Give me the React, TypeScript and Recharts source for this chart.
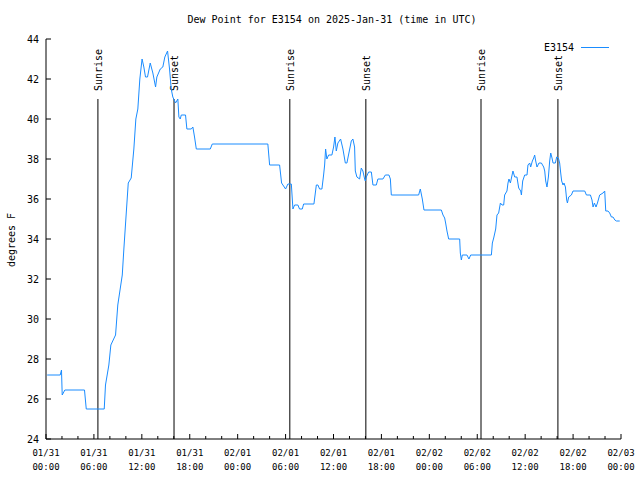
import { LineChart, Line, XAxis, YAxis, ReferenceLine, Legend } from 'recharts';

// hours since 2025-01-31 00:00 UTC
const hours = [
  0.15, 1.78, 1.94, 2.03, 2.36, 4.82, 5.04, 7.29, 7.45, 7.87, 8.12, 8.71, 8.99, 9.55, 9.75, 10.05,
  10.3, 10.67, 11.0, 11.25, 11.5, 11.75, 12.03, 12.25, 12.46, 12.71, 13.05, 13.38, 13.72, 13.88,
  14.31, 14.63, 14.88, 15.22, 15.47, 15.68, 15.88, 16.22, 16.51, 16.64, 16.81, 16.94, 17.47, 17.64,
  18.19, 18.39, 18.6, 18.82, 20.57, 20.82, 27.78, 28.0, 29.25, 29.5, 29.75, 30.0, 30.29, 30.72,
  30.92, 31.13, 31.54, 31.75, 32.09, 32.26, 33.55, 33.85, 34.05, 34.26, 34.55, 34.76, 34.89, 35.01,
  35.17, 35.39, 35.8, 36.01, 36.18, 36.35, 36.55, 36.89, 37.18, 37.48, 37.68, 37.93, 38.23, 38.43,
  38.64, 38.73, 38.93, 39.27, 39.48, 39.68, 39.9, 39.98, 40.11, 40.4, 40.74, 40.94, 41.36, 41.56,
  42.19, 42.49, 42.94, 43.12, 43.24, 46.66, 46.87, 47.12, 47.33, 49.5, 49.71, 49.92, 50.04, 50.21,
  50.42, 51.8, 51.88, 52.01, 52.13, 52.71, 52.96, 53.18, 55.77, 55.89, 56.06, 56.31, 56.47, 56.68,
  56.9, 57.1, 57.31, 57.43, 57.72, 57.85, 57.97, 58.15, 58.31, 58.47, 58.69, 58.97, 59.19, 59.44,
  59.53, 59.69, 59.94, 60.23, 60.35, 60.57, 60.69, 60.9, 61.07, 61.19, 61.32, 61.48, 61.73, 62.03,
  62.32, 62.45, 62.57, 62.73, 62.91, 63.07, 63.2, 63.36, 63.49, 63.78, 63.95, 64.16, 64.32, 64.45,
  64.57, 64.74, 64.86, 65.04, 65.2, 65.29, 65.45, 65.79, 65.99, 67.46, 67.67, 68.17, 68.37, 68.5,
  68.67, 68.87, 69.05, 69.33, 69.75, 69.96, 70.09, 70.37, 70.58, 70.8, 71.0, 71.23, 71.43, 71.84,
];

const dewPoint = [
  27.2, 27.2, 27.45, 26.2, 26.45, 26.45, 25.5, 25.5, 26.7, 27.7, 28.7, 29.2, 30.7, 32.2, 33.5, 35.3,
  36.8, 37.05, 38.5, 40.0, 40.5, 42.0, 43.0, 42.6, 42.1, 42.1, 42.8, 42.3, 41.6, 42.1,
  42.5, 42.6, 43.1, 43.4, 42.5, 41.5, 41.1, 40.8, 41.0, 40.1, 40.0, 40.2, 40.2, 39.5,
  39.5, 39.6, 39.1, 38.5, 38.5, 38.75, 38.75, 37.7, 37.7, 36.8, 36.65, 36.5, 36.75, 36.75,
  35.5, 35.7, 35.7, 35.5, 35.5, 35.75, 35.75, 36.7, 36.7, 36.5, 36.5, 37.2, 37.7, 38.5,
  38.0, 38.2, 38.2, 38.6, 39.1, 38.4, 38.8, 39.0, 38.5, 37.8, 37.8, 38.3, 38.9, 39.0,
  38.6, 37.4, 37.1, 37.0, 37.55, 37.4, 37.0, 36.9, 37.1, 37.35, 37.35, 36.7, 36.7, 37.0,
  37.0, 37.2, 37.2, 37.0, 36.2, 36.2, 36.5, 36.0, 35.45, 35.45, 35.2, 35.05, 34.8, 34.4,
  34.0, 34.0, 33.3, 32.95, 33.2, 33.2, 33.0, 33.2, 33.2, 33.8, 34.05, 34.5, 35.2, 35.3,
  35.8, 35.7, 35.7, 36.2, 36.4, 36.8, 37.0, 36.8, 37.1, 37.4, 37.1, 37.1, 36.55, 36.4,
  36.2, 36.9, 37.2, 37.2, 37.7, 37.8, 37.6, 37.9, 38.05, 38.2, 37.9, 37.6, 37.8, 37.8,
  37.6, 37.4, 36.9, 36.6, 37.1, 37.9, 38.3, 38.05, 37.8, 37.8, 38.1, 38.05, 37.8, 37.3,
  36.9, 36.7, 36.8, 36.6, 35.95, 35.8, 36.1, 36.2, 36.4, 36.4, 36.2, 36.2, 35.95, 35.6,
  35.8, 35.6, 35.8, 36.2, 36.3, 36.4, 35.4, 35.4, 35.3, 35.1, 35.1, 34.95, 34.9, 34.9,
];

const xTicks = [
  0, 2, 4, 6, 8, 10, 12, 14, 16, 18, 20, 22, 24, 26, 28, 30, 32, 34, 36, 38, 40, 42, 44, 46, 48,
  50, 52, 54, 56, 58, 60, 62, 64, 66, 68, 70, 72,
];
const xTickDates = ['01/31', '01/31', '01/31', '01/31', '02/01', '02/01', '02/01', '02/01', '02/02', '02/02', '02/02', '02/02', '02/03'];
const xTickTimes = ['00:00', '06:00', '12:00', '18:00', '00:00', '06:00', '12:00', '18:00', '00:00', '06:00', '12:00', '18:00', '00:00'];
const yTicks = [24, 26, 28, 30, 32, 34, 36, 38, 40, 42, 44];

const sunEvents = ['Sunrise', 'Sunset', 'Sunrise', 'Sunset', 'Sunrise', 'Sunset'];
const sunHours = [6.5, 16.03, 30.53, 40.05, 54.47, 64.1];
const sunLineTop = 41;

const data = hours.map((h, i) => ({ h, dew: dewPoint[i] }));

const FONT = '"DejaVu Sans Mono", monospace';
const LINE_COLOR = '#1a8cff';

function BottomTick({ x, y, payload }: any) {
  const v = payload.value;
  const major = v % 6 === 0;
  const i = v / 6;
  return (
    <g>
      <line x1={x} y1={y} x2={x} y2={y - (major ? 5 : 3)} stroke="#000" />
      {major && (
        <text x={x} y={y + 17} textAnchor="middle" fontSize={9} fontFamily={FONT} fill="#000">
          <tspan x={x}>{xTickDates[i]}</tspan>
          <tspan x={x} dy={14}>{xTickTimes[i]}</tspan>
        </text>
      )}
    </g>
  );
}

function TopTick({ x, y, payload }: any) {
  const major = payload.value % 6 === 0;
  return <line x1={x} y1={y} x2={x} y2={y + (major ? 5 : 3)} stroke="#000" />;
}

function LeftTick({ x, y, payload }: any) {
  return (
    <g>
      <line x1={x} y1={y} x2={x + 5} y2={y} stroke="#000" />
      <text x={x - 7} y={y + 4} textAnchor="end" fontSize={10} fontFamily={FONT} fill="#000">
        {payload.value}
      </text>
    </g>
  );
}

function RightTick({ x, y }: any) {
  return <line x1={x} y1={y} x2={x - 5} y2={y} stroke="#000" />;
}

function sunShape(name: string) {
  return (props: any) => {
    const { x1, y1, x2, y2 } = props;
    const top = Math.min(y1, y2);
    return (
      <g>
        <line x1={x1} y1={y1} x2={x2} y2={y2} stroke="#000" strokeWidth={1} />
        <text
          x={x1 + 4}
          y={top - 8}
          transform={`rotate(-90 ${x1 + 4} ${top - 8})`}
          textAnchor="start"
          fontSize={10}
          fontFamily={FONT}
          fill="#000"
        >
          {name}
        </text>
      </g>
    );
  };
}

function LegendContent() {
  return (
    <div style={{ display: 'flex', alignItems: 'center', fontFamily: FONT, fontSize: 10, color: '#000' }}>
      <span>E3154</span>
      <span style={{ display: 'inline-block', width: 28, borderTop: `1px solid ${LINE_COLOR}`, marginLeft: 7 }} />
    </div>
  );
}

export default function App() {
  return (
    <div style={{ position: 'absolute', left: 0, top: 0, width: 640, height: 480, background: '#fff' }}>
      <LineChart width={640} height={480} data={data} margin={{ top: 39, right: 19, bottom: 0, left: 0 }}>
        <text x={332} y={23} textAnchor="middle" fontSize={10} fontFamily={FONT} fill="#000">
          Dew Point for E3154 on 2025-Jan-31 (time in UTC)
        </text>
        <text
          x={15}
          y={240}
          transform="rotate(-90 15 240)"
          textAnchor="middle"
          fontSize={10}
          fontFamily={FONT}
          fill="#000"
        >
          degrees F
        </text>
        <XAxis
          dataKey="h"
          type="number"
          domain={[0, 72]}
          ticks={xTicks}
          interval={0}
          height={41}
          tickSize={0}
          tickMargin={0}
          tickLine={false}
          axisLine={{ stroke: '#000' }}
          tick={BottomTick}
          allowDataOverflow
        />
        <XAxis
          xAxisId="top"
          orientation="top"
          dataKey="h"
          type="number"
          domain={[0, 72]}
          ticks={xTicks}
          interval={0}
          height={0}
          tickSize={0}
          tickMargin={0}
          tickLine={false}
          axisLine={{ stroke: '#000' }}
          tick={TopTick}
        />
        <YAxis
          type="number"
          domain={[24, 44]}
          ticks={yTicks}
          interval={0}
          width={46}
          tickSize={0}
          tickMargin={0}
          tickLine={false}
          axisLine={{ stroke: '#000' }}
          tick={LeftTick}
          allowDataOverflow
        />
        <YAxis
          yAxisId="right"
          orientation="right"
          type="number"
          domain={[24, 44]}
          ticks={yTicks}
          interval={0}
          width={0}
          tickSize={0}
          tickMargin={0}
          tickLine={false}
          axisLine={{ stroke: '#000' }}
          tick={RightTick}
        />
        <Legend
          verticalAlign="middle"
          align="center"
          layout="horizontal"
          content={LegendContent}
          wrapperStyle={{ top: 42, right: 31, width: 'auto' }}
        />
        {sunHours.map((h, i) => (
          <ReferenceLine
            key={i}
            segment={[
              { x: h, y: sunLineTop },
              { x: h, y: 24 },
            ]}
            shape={sunShape(sunEvents[i])}
          />
        ))}
        <Line
          type="linear"
          dataKey="dew"
          stroke={LINE_COLOR}
          strokeWidth={1}
          dot={false}
          isAnimationActive={false}
          legendType="line"
        />
      </LineChart>
    </div>
  );
}
